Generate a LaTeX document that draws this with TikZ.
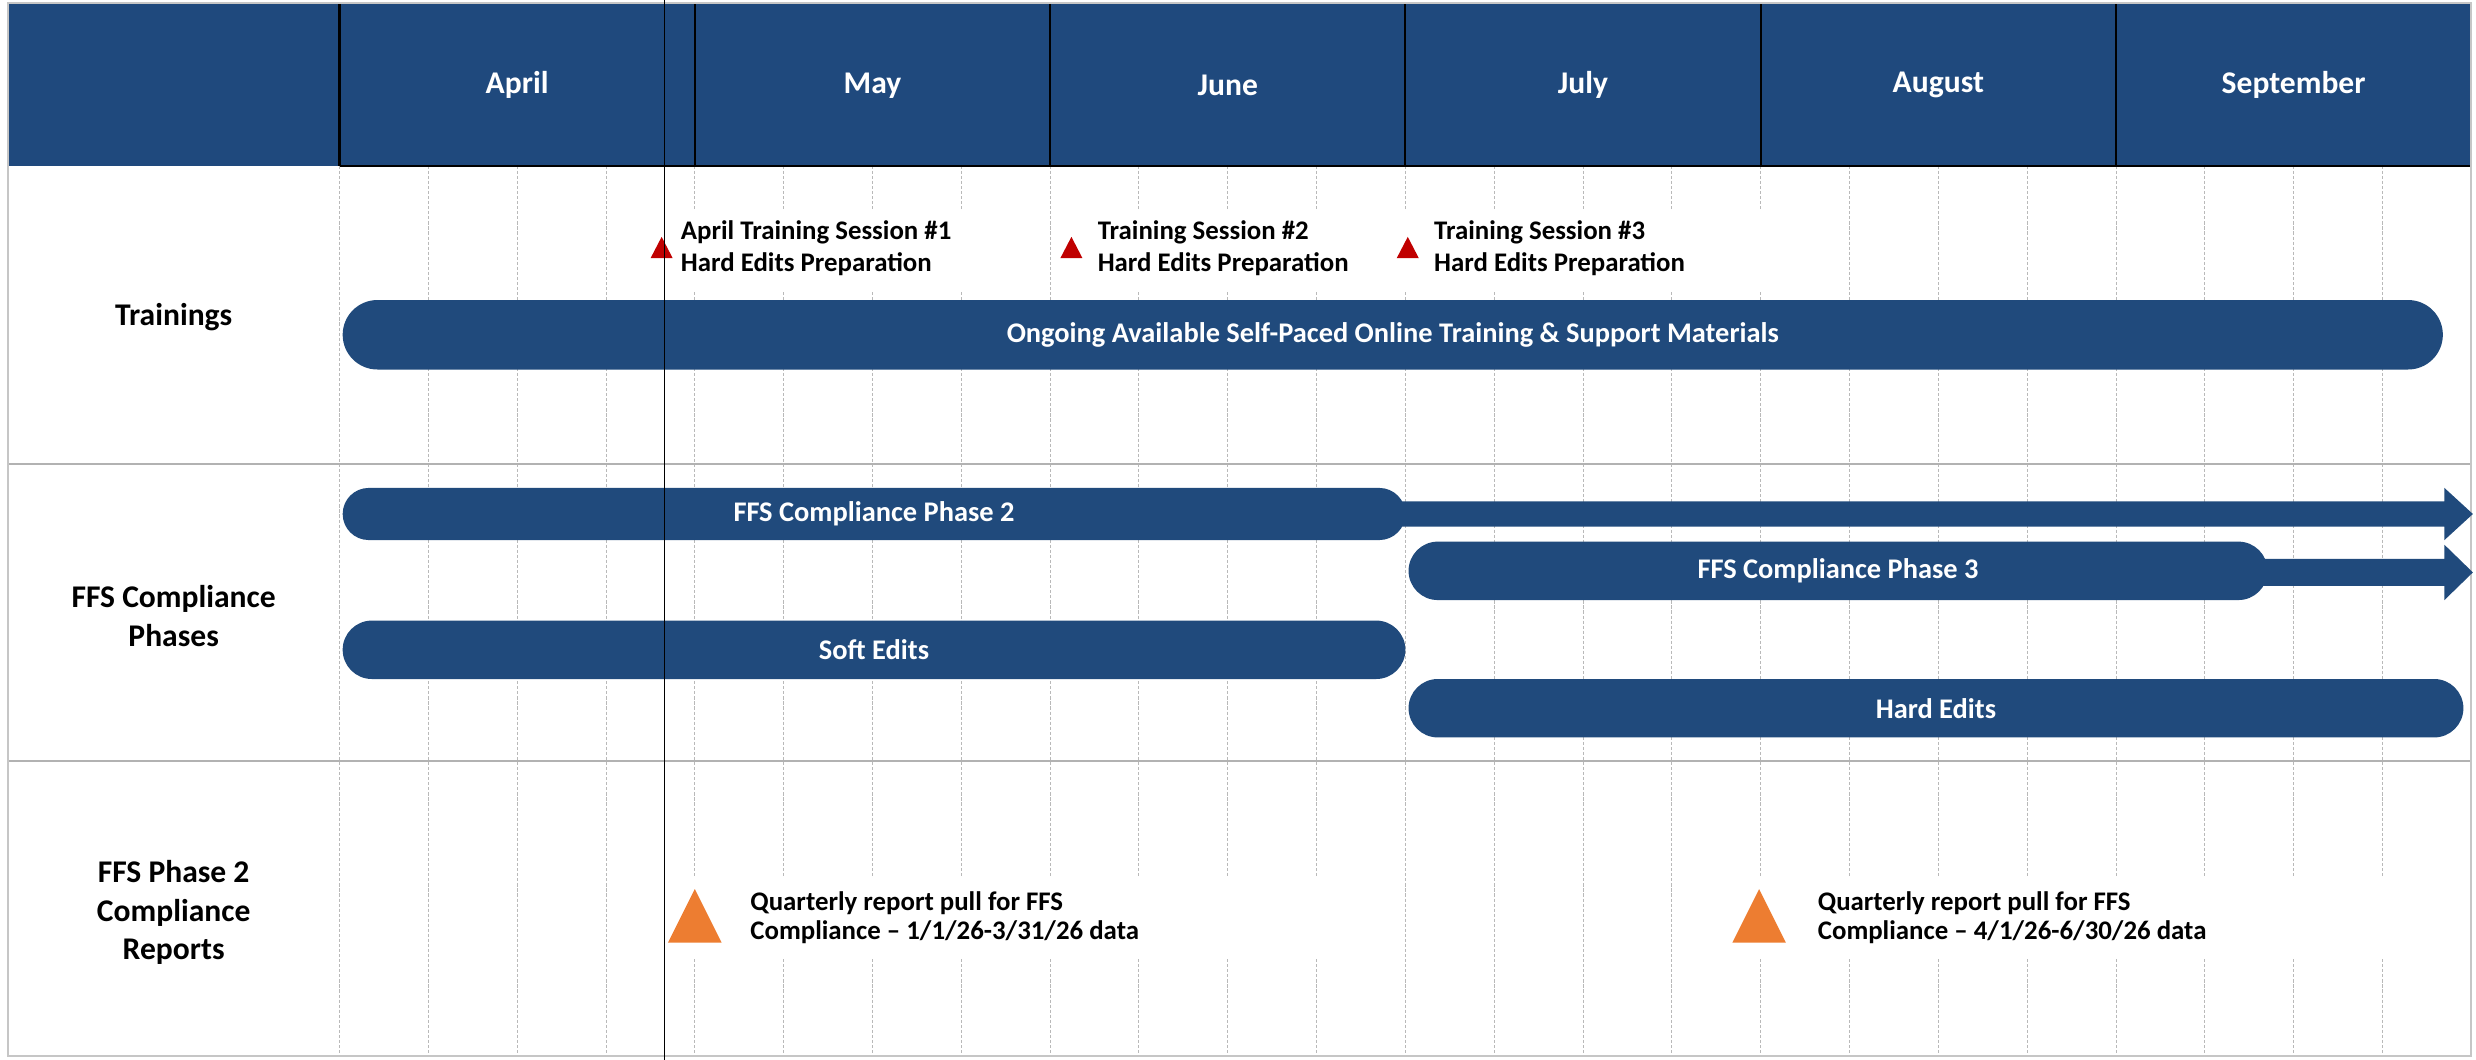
\documentclass[tikz,border=0pt]{standalone}
\usepackage{fontspec}
\setmainfont{Carlito}
\definecolor{hdrblue}{HTML}{1F497D}
\definecolor{barblue}{HTML}{204A7C}
\definecolor{tred}{HTML}{C00000}
\definecolor{torange}{HTML}{ED7D31}
\tikzset{
  monthlbl/.style={text=white,font=\bfseries\fontsize{20}{24}\selectfont},
  rowlbl/.style={align=center,font=\bfseries\fontsize{20}{24.4}\selectfont},
  bar/.style={fill=barblue,draw=none,text=white,inner sep=0pt,font=\bfseries\fontsize{18}{22}\selectfont},
  evlbl/.style={anchor=west,align=left,inner sep=0pt,font=\bfseries\fontsize{17}{20}\selectfont},
  replbl/.style={anchor=west,align=left,inner sep=0pt,font=\bfseries\fontsize{17}{18.3}\selectfont},
  grid/.style={gray!55,line width=0.6pt,dash pattern=on 2pt off 1.2pt},
}
\begin{document}
\begin{tikzpicture}[x=1pt,y=-1pt]
\useasboundingbox (0,0) rectangle (1568,671);
\fill[white] (0,0) rectangle (1568,671);
% header
\fill[hdrblue] (5,2) rectangle (1565,105);
% grid
\foreach \i in {0,...,23} \draw[grid] ({215+56.25*\i},105) -- ({215+56.25*\i},669);
% row separators
\draw[gray!60,line width=1pt] (5,294) -- (1565,294);
\draw[gray!60,line width=1pt] (5,482) -- (1565,482);
% header month borders
\foreach \x in {215,440,665,890,1115,1340} \draw[black,line width=1.3pt] (\x,2) -- (\x,105);
\draw[black,line width=1.3pt] (215,105) -- (1565,105);
% frame
\draw[gray!45,line width=1.2pt] (5,2) rectangle (1565,669);
% month labels
\node[monthlbl] (m1) at (327.5,54) {April};
\node[monthlbl] (m2) at (552.5,54) {May};
\node[monthlbl] (m3) at (777.5,54) {June};
\node[monthlbl] (m4) at (1002.5,54) {July};
\node[monthlbl] (m5) at (1227.5,54) {August};
\node[monthlbl] (m6) at (1452.5,54) {September};
% row labels
\node[rowlbl] (r1) at (110,201) {Trainings};
\node[rowlbl] (r2) at (110,390) {FFS Compliance\\Phases};
\node[rowlbl] (r3) at (110,578) {FFS Phase 2\\Compliance\\Reports};
% trainings
\fill[white] (424,133) rectangle (665,185);
\fill[white] (672,133) rectangle (885,185);
\fill[white] (886,133) rectangle (1120,185);
\node[evlbl] (e1) at (431,157) {April Training Session \#1\\Hard Edits Preparation};
\node[evlbl] (e2) at (695,157) {Training Session \#2\\Hard Edits Preparation};
\node[evlbl] (e3) at (908,157) {Training Session \#3\\Hard Edits Preparation};
\fill[tred] (412,163.5) -- (419,150) -- (426,163.5) -- cycle;
\fill[tred] (671.5,163.5) -- (678.5,150) -- (685.5,163.5) -- cycle;
\fill[tred] (884.5,163.5) -- (891.5,150) -- (898.5,163.5) -- cycle;
\node[bar,rounded corners=22pt,minimum width=1330pt,minimum height=44pt] (ongo) at (882,212) {Ongoing Available Self-Paced Online Training \& Support Materials};
% phases
\fill[barblue] (870,317.5) -- (1548,317.5) -- (1548,309) -- (1566,325.5) -- (1548,342) -- (1548,333.5) -- (870,333.5) -- cycle;
\node[bar,rounded corners=16.5pt,minimum width=673pt,minimum height=33pt] (ph2) at (553.5,325.5) {FFS Compliance Phase 2};
\fill[barblue] (1420,354) -- (1548,354) -- (1548,345) -- (1566,362.5) -- (1548,380) -- (1548,371) -- (1420,371) -- cycle;
\node[bar,rounded corners=18.5pt,minimum width=544pt,minimum height=37pt] (ph3) at (1164,361.5) {FFS Compliance Phase 3};
\node[bar,rounded corners=18.5pt,minimum width=673pt,minimum height=37pt] (soft) at (553.5,411.5) {Soft Edits};
\node[bar,rounded corners=18.5pt,minimum width=668pt,minimum height=37pt] (hard) at (1226,448.5) {Hard Edits};
% reports
\fill[white] (424,556) rectangle (865,606);
\fill[white] (1090,556) rectangle (1540,606);
\node[replbl] (q1) at (475,581) {Quarterly report pull for FFS\\Compliance – 1/1/26-3/31/26 data};
\node[replbl] (q2) at (1151,581) {Quarterly report pull for FFS\\Compliance – 4/1/26-6/30/26 data};
\fill[torange] (423,597) -- (440,563) -- (457,597) -- cycle;
\fill[torange] (1097,597) -- (1114,563) -- (1131,597) -- cycle;
% today line
\draw[black,line width=0.8pt] (421,0) -- (421,671);
\end{tikzpicture}
\end{document}
